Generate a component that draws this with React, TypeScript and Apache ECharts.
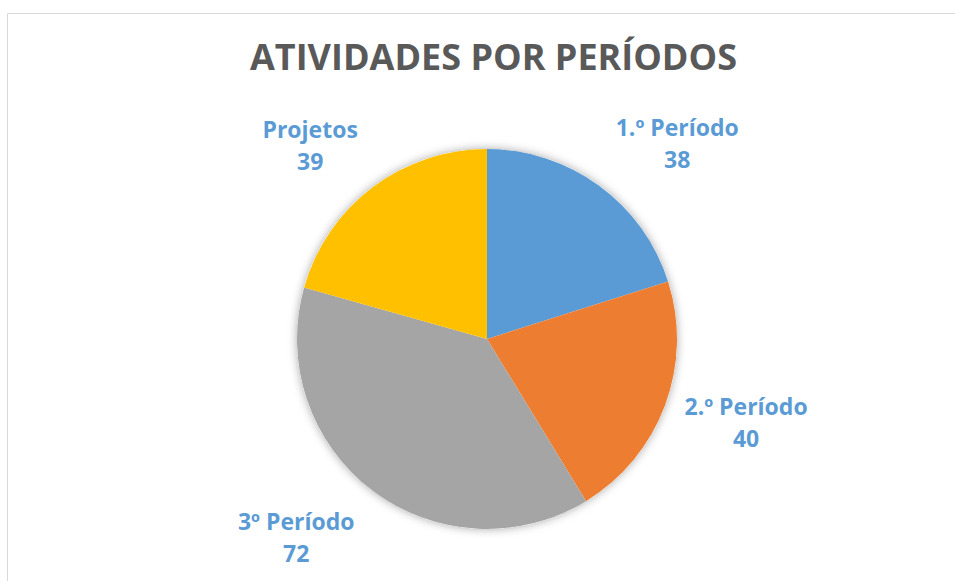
import React, { useEffect, useRef } from "react";
import * as echarts from "echarts";

const titleText = "ATIVIDADES POR PERÍODOS";
const categories = ["1.º Período", "2.º Período", "3º Período", "Projetos"];
const values = [38, 40, 72, 39];
const colors = ["#5B9BD5", "#ED7D31", "#A5A5A5", "#FFC000"];
const labelNudges = [
  [32, 20],
  [8, -11],
  [-29, -16],
  [-15, 20],
];

export default function App() {
  const ref = useRef<HTMLDivElement>(null);
  useEffect(() => {
    document.body.style.margin = "0";
    const chart = echarts.init(ref.current!, null, { renderer: "svg" });
    const data = categories.map((name, i) => ({ name, value: values[i], itemStyle: { color: colors[i] } }));
    const center = [487, 339];
    chart.setOption({
      animation: false,
      backgroundColor: "#ffffff",
      title: {
        text: titleText,
        left: 245,
        top: 33,
        textStyle: { fontFamily: "Open Sans", fontWeight: "bold", fontSize: 36, color: "#595959" },
      },
      graphic: [
        {
          type: "rect",
          shape: { x: 7.5, y: 13.5, width: 1200, height: 1200 },
          style: { fill: "none", stroke: "#d9d9d9", lineWidth: 1 },
          silent: true,
          z: -10,
        },
      ],
      series: [
        {
          type: "pie",
          center,
          radius: [0, 190],
          silent: true,
          z: 1,
          label: { show: false },
          labelLine: { show: false },
          itemStyle: { color: "#ffffff", shadowBlur: 10, shadowColor: "rgba(0,0,0,0.35)" },
          data: [{ name: "bg", value: 1 }],
        },
        {
          type: "pie",
          center,
          radius: [0, 190],
          startAngle: 90,
          clockwise: true,
          z: 2,
          label: { show: false },
          labelLine: { show: false },
          itemStyle: { borderWidth: 0 },
          data,
        },
        {
          type: "pie",
          center,
          radius: [250, 280],
          startAngle: 90,
          clockwise: true,
          silent: true,
          z: 3,
          itemStyle: { color: "rgba(0,0,0,0)", borderWidth: 0 },
          labelLine: { show: false },
          label: {
            show: true,
            position: "inside",
            formatter: "{b}\n{c}",
            fontFamily: "Open Sans",
            fontWeight: "bold",
            fontSize: 23,
            lineHeight: 32,
            color: "#5B9BD5",
            align: "center",
          },
          labelLayout: (p: any) => ({ dx: labelNudges[p.dataIndex][0], dy: labelNudges[p.dataIndex][1] }),
          data: categories.map((name, i) => ({ name, value: values[i] })),
        },
      ],
    });
    return () => chart.dispose();
  }, []);
  return <div ref={ref} style={{ width: 955, height: 581 }} />;
}
